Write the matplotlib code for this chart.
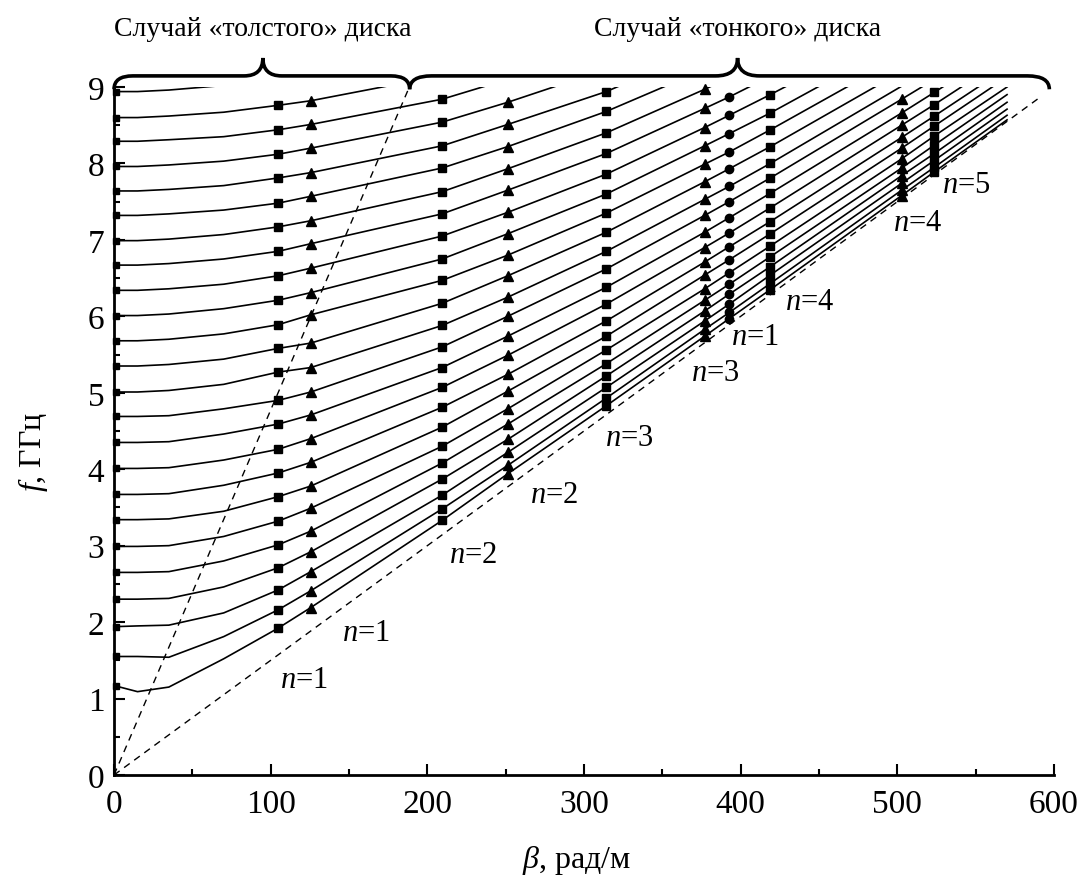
import numpy as np
import matplotlib
matplotlib.use('Agg')
from matplotlib import pyplot as plt
from matplotlib.path import Path
from matplotlib.patches import PathPatch

plt.rcParams['font.family'] = ['Liberation Serif', 'DejaVu Serif']
plt.rcParams['mathtext.fontset'] = 'custom'
plt.rcParams['mathtext.rm'] = 'Liberation Serif'
plt.rcParams['mathtext.it'] = 'Liberation Serif:italic'

# значения beta, в которых сняты точки кривых
beta_pts = [0, 15, 35, 70, 104.7, 125.6, 209.4, 251.3, 314.2, 377.0, 392.7, 418.9, 502.7, 523.6, 570]
nan = np.nan

# f, ГГц для каждой кривой (по строкам)
f_curves = [
    [1.17, 1.09, 1.15, 1.52, 1.92, 2.19, 3.33, 3.94, 4.83, 5.74, 5.97, 6.35, 7.58, 7.89, 8.57],
    [1.55, 1.55, 1.54, 1.81, 2.16, 2.41, 3.48, 4.05, 4.93, 5.83, 6.05, 6.43, 7.65, 7.95, 8.63],
    [1.94, 1.95, 1.96, 2.12, 2.42, 2.66, 3.66, 4.22, 5.07, 5.94, 6.16, 6.54, 7.74, 8.04, 8.71],
    [2.30, 2.30, 2.31, 2.46, 2.71, 2.92, 3.87, 4.39, 5.22, 6.07, 6.29, 6.65, 7.84, 8.13, 8.80],
    [2.65, 2.65, 2.66, 2.80, 3.01, 3.19, 4.08, 4.59, 5.38, 6.21, 6.42, 6.78, 7.94, 8.24, 8.90],
    [2.99, 2.99, 3.00, 3.12, 3.32, 3.49, 4.30, 4.79, 5.56, 6.36, 6.57, 6.92, 8.06, 8.36, 9.00],
    [3.34, 3.34, 3.35, 3.45, 3.64, 3.78, 4.55, 5.02, 5.74, 6.54, 6.74, 7.08, 8.20, 8.49, 9.13],
    [3.67, 3.67, 3.68, 3.79, 3.95, 4.09, 4.81, 5.24, 5.94, 6.71, 6.91, 7.24, 8.34, 8.62, 9.25],
    [4.01, 4.01, 4.02, 4.12, 4.26, 4.40, 5.07, 5.49, 6.16, 6.90, 7.09, 7.42, 8.50, 8.77, 9.39],
    [4.35, 4.35, 4.36, 4.46, 4.59, 4.71, 5.33, 5.74, 6.38, 7.10, 7.29, 7.61, 8.66, 8.93, 9.54],
    [4.69, 4.69, 4.70, 4.79, 4.90, 5.01, 5.60, 6.00, 6.62, 7.32, 7.50, 7.81, 8.84, 9.10, nan],
    [5.01, 5.01, 5.03, 5.11, 5.27, 5.33, 5.88, 6.25, 6.85, 7.53, 7.70, 8.00, 9.01, nan, nan],
    [5.35, 5.35, 5.37, 5.44, 5.58, 5.65, 6.17, 6.53, 7.10, 7.76, 7.93, 8.22, 9.20, nan, nan],
    [5.68, 5.68, 5.70, 5.77, 5.89, 6.02, 6.47, 6.80, 7.35, 7.99, 8.15, 8.44, 9.40, nan, nan],
    [6.01, 6.01, 6.03, 6.10, 6.21, 6.31, 6.75, 7.08, 7.60, 8.23, 8.39, 8.66, 9.60, nan, nan],
    [6.34, 6.34, 6.36, 6.42, 6.53, 6.63, 7.05, 7.36, 7.86, 8.47, 8.63, 8.90, 9.80, nan, nan],
    [6.67, 6.67, 6.69, 6.75, 6.85, 6.95, 7.34, 7.65, 8.13, 8.72, 8.87, 9.14, nan, nan, nan],
    [6.99, 6.99, 7.01, 7.07, 7.17, 7.25, 7.63, 7.93, 8.40, 8.97, 9.12, nan, nan, nan, nan],
    [7.32, 7.32, 7.34, 7.39, 7.48, 7.57, 7.94, 8.22, 8.68, 9.23, nan, nan, nan, nan, nan],
    [7.64, 7.64, 7.66, 7.71, 7.81, 7.88, 8.23, 8.51, 8.94, 9.49, nan, nan, nan, nan, nan],
    [7.96, 7.96, 7.98, 8.03, 8.12, 8.20, 8.54, 8.80, 9.23, nan, nan, nan, nan, nan, nan],
    [8.29, 8.29, 8.31, 8.35, 8.44, 8.51, 8.84, 9.10, nan, nan, nan, nan, nan, nan, nan],
    [8.60, 8.60, 8.62, 8.67, 8.76, 8.82, 9.15, nan, nan, nan, nan, nan, nan, nan, nan],
    [8.94, 8.94, 8.96, 9.02, 9.08, nan, nan, nan, nan, nan, nan, nan, nan, nan, nan],
]

# положения маркеров
square_beta = [104.7, 209.4, 314.2, 418.9, 523.6]
triangle_beta = [125.6, 251.3, 377.0, 502.7]
circle_beta = [392.7]

# световые линии (пунктир)
vac_beta = [0, 188.5]
vac_f = [0, 9.0]
diel_beta = [0, 592]
diel_f = [0, 8.88]

# подписи n
n_labels = ['1', '1', '2', '2', '3', '3', '1', '4', '4', '5']
n_beta = [121, 161, 229, 281, 329, 384, 409, 444, 513, 544]
n_f = [1.25, 1.86, 2.89, 3.67, 4.42, 5.27, 5.73, 6.20, 7.23, 7.73]

fig = plt.figure(figsize=(10.88, 8.79), dpi=100)
ax = fig.add_axes([0.1048, 0.1172, 0.864, 0.7827])

b = np.array(beta_pts)
for row in f_curves:
    f = np.array(row)
    ax.plot(b, f, color='black', lw=1.2, zorder=2)
    # маленький квадрат на оси
    ax.plot([1.5], [f[0]], 's', color='black', ms=4, clip_on=False, zorder=3)
    for bb_list, mk, ms in ((square_beta, 's', 5.5), (triangle_beta, '^', 6.5), (circle_beta, 'o', 6)):
        for bb in bb_list:
            i = beta_pts.index(bb)
            if not np.isnan(f[i]) and f[i] < 9.0:
                ax.plot([bb], [f[i]], mk, color='black', ms=ms, clip_on=False, zorder=3)

ax.plot(vac_beta, vac_f, color='black', lw=1.0, linestyle=(0, (5, 4)))
ax.plot(diel_beta, diel_f, color='black', lw=1.0, linestyle=(0, (5, 4)))

for lab, x, y in zip(n_labels, n_beta, n_f):
    ax.text(x, y, r'$n$=' + lab, fontsize=22, ha='center', va='center')

ax.set_xlim(0, 600)
ax.set_ylim(0, 9)
ax.set_xticks(np.arange(0, 601, 100))
ax.set_xticks(np.arange(0, 601, 50), minor=True)
ax.set_yticks(np.arange(0, 10, 1))
ax.set_yticks(np.arange(0, 9.01, 0.5), minor=True)
ax.tick_params(which='both', direction='in', width=1.5, labelsize=24)
ax.tick_params(which='major', length=8)
ax.tick_params(axis='x', which='major', pad=10)
ax.tick_params(axis='y', which='major', pad=7)
ax.tick_params(which='minor', length=4.5)
ax.spines['top'].set_visible(False)
ax.spines['right'].set_visible(False)
ax.spines['left'].set_linewidth(2)
ax.spines['bottom'].set_linewidth(2)

ax.set_xlabel(r'$\beta$, рад/м', fontsize=23)
ax.set_ylabel(r'$f$, ГГц', fontsize=23)
ax.xaxis.set_label_coords(0.4926, -0.099)
ax.yaxis.set_label_coords(-0.068, 0.471)


def brace(xa, xb, xm, y0, y1, y2, rx):
    verts = [(xa, y0), (xa, y1), (xa + rx, y1),
             (xm - rx, y1), (xm, y1), (xm, y2),
             (xm, y1), (xm + rx, y1),
             (xb - rx, y1), (xb, y1), (xb, y0)]
    codes = [Path.MOVETO, Path.CURVE3, Path.CURVE3,
             Path.LINETO, Path.CURVE3, Path.CURVE3,
             Path.CURVE3, Path.CURVE3,
             Path.LINETO, Path.CURVE3, Path.CURVE3]
    p = PathPatch(Path(verts, codes), fill=False, lw=2.6, color='black', clip_on=False)
    ax.add_patch(p)


brace(0, 188.7, 95, 8.97, 9.145, 9.38, 12)
brace(188.7, 597, 398, 8.97, 9.145, 9.38, 14)

ax.text(95, 9.77, 'Случай «толстого» диска', fontsize=20, ha='center', va='center')
ax.text(398, 9.77, 'Случай «тонкого» диска', fontsize=20, ha='center', va='center')

plt.savefig('out.png', dpi=100)
